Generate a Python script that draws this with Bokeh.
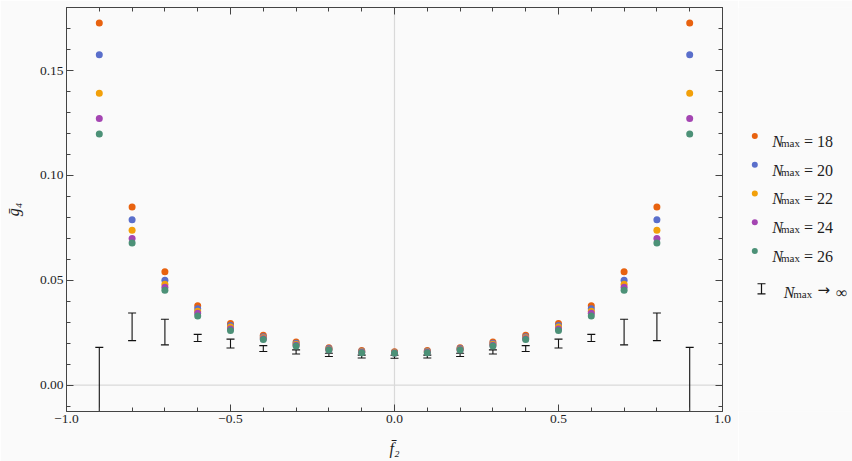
import numpy as np
from bokeh.plotting import figure
from bokeh.models import Range1d, FixedTicker, LinearAxis, Span
from bokeh.layouts import row
from bokeh.embed import file_html
from bokeh.resources import INLINE
from bokeh.core.properties import value

# ---------------- data ----------------
f2 = [-0.9, -0.8, -0.7, -0.6, -0.5, -0.4, -0.3, -0.2, -0.1, 0.0,
      0.1, 0.2, 0.3, 0.4, 0.5, 0.6, 0.7, 0.8, 0.9]

g4_N18 = [0.1727, 0.0849, 0.0540, 0.0379, 0.0294, 0.0238, 0.0205, 0.0178, 0.0165, 0.0159,
          0.0165, 0.0178, 0.0205, 0.0238, 0.0294, 0.0379, 0.0540, 0.0849, 0.1727]
g4_N20 = [0.1576, 0.0789, 0.0500, 0.0364, 0.0284, 0.0231, 0.0199, 0.0174, 0.0161, 0.0157,
          0.0161, 0.0174, 0.0199, 0.0231, 0.0284, 0.0364, 0.0500, 0.0789, 0.1576]
g4_N22 = [0.1392, 0.0738, 0.0481, 0.0352, 0.0277, 0.0226, 0.0195, 0.0171, 0.0159, 0.0155,
          0.0159, 0.0171, 0.0195, 0.0226, 0.0277, 0.0352, 0.0481, 0.0738, 0.1392]
g4_N24 = [0.1271, 0.0699, 0.0467, 0.0343, 0.0268, 0.0221, 0.0190, 0.0169, 0.0157, 0.0153,
          0.0157, 0.0169, 0.0190, 0.0221, 0.0268, 0.0343, 0.0467, 0.0699, 0.1271]
g4_N26 = [0.1198, 0.0678, 0.0452, 0.0330, 0.0260, 0.0217, 0.0186, 0.0167, 0.0154, 0.0152,
          0.0154, 0.0167, 0.0186, 0.0217, 0.0260, 0.0330, 0.0452, 0.0678, 0.1198]

# extrapolated N_max -> infinity : error-bar bounds
inf_upper = [0.0180, 0.0344, 0.0314, 0.0242, 0.0219, 0.0188, 0.0168, 0.0152, 0.0143, 0.0142,
             0.0143, 0.0152, 0.0168, 0.0188, 0.0219, 0.0242, 0.0314, 0.0344, 0.0180]
inf_lower = [-0.0500, 0.0212, 0.0192, 0.0208, 0.0177, 0.0160, 0.0148, 0.0136, 0.0129, 0.0128,
             0.0129, 0.0136, 0.0148, 0.0160, 0.0177, 0.0208, 0.0192, 0.0212, -0.0500]

nmax_labels = ["18", "20", "22", "24", "26"]
series = [g4_N18, g4_N20, g4_N22, g4_N24, g4_N26]
colors = ["#E8620F", "#5A6FCB", "#F2A00A", "#A445B2", "#4C9177"]

x_ticks = [-1.0, -0.5, 0.0, 0.5, 1.0]
x_tick_labels = ["\u22121.0", "\u22120.5", "0.0", "0.5", "1.0"]
y_ticks = [0.0, 0.05, 0.10, 0.15]
y_tick_labels = ["0.00", "0.05", "0.10", "0.15"]

# ---------------- style ----------------
BG = "#fafafa"
FRAME = "#444444"
LABEL = "#1e1e1e"
SERIF = "'Liberation Serif', 'Times New Roman', serif"

x_minor = [round(v, 2) for v in np.arange(-1.0, 1.0001, 0.1)]
y_minor = [round(v, 3) for v in np.arange(-0.01, 0.1801, 0.01)]

p = figure(width=738, height=461,
           x_range=Range1d(-1.0, 1.0), y_range=Range1d(-0.0126, 0.1801),
           output_backend="svg", toolbar_location=None,
           min_border_left=66, min_border_right=16,
           min_border_top=7, min_border_bottom=50,
           background_fill_color=BG, border_fill_color=BG)
p.xgrid.visible = False
p.ygrid.visible = False
p.outline_line_color = None

p.add_layout(LinearAxis(), "above")
p.add_layout(LinearAxis(), "right")


def style_axis(ax, ticks, minor, labels, show):
    ax.ticker = FixedTicker(ticks=ticks, minor_ticks=minor)
    ax.axis_line_color = FRAME
    ax.axis_line_width = 1
    ax.major_tick_line_color = FRAME
    ax.minor_tick_line_color = FRAME
    ax.major_tick_in = 7
    ax.major_tick_out = 0
    ax.minor_tick_in = 4
    ax.minor_tick_out = 0
    if show:
        ax.major_label_overrides = {t: l for t, l in zip(ticks, labels)}
        ax.major_label_text_font = SERIF
        ax.major_label_text_font_size = "13.5px"
        ax.major_label_text_color = LABEL
    else:
        ax.major_label_overrides = {t: "" for t in ticks}
        ax.major_label_text_font_size = "0px"
        ax.major_label_standoff = 0


style_axis(p.below[0], x_ticks, x_minor, x_tick_labels, True)
style_axis(p.above[0], x_ticks, x_minor, x_tick_labels, False)
style_axis(p.left[0], y_ticks, y_minor, y_tick_labels, True)
style_axis(p.right[0], y_ticks, y_minor, y_tick_labels, False)

p.below[0].major_label_standoff = 3
p.left[0].major_label_standoff = 3

xa = p.below[0]
xa.axis_label = "f\u0304\u2082"
xa.axis_label_text_font = SERIF
xa.axis_label_text_font_style = "italic"
xa.axis_label_text_font_size = "16px"
xa.axis_label_text_color = LABEL
xa.axis_label_standoff = 14

ya = p.left[0]
ya.axis_label = "\u1e21\u2084"
ya.axis_label_text_font = SERIF
ya.axis_label_text_font_style = "italic"
ya.axis_label_text_font_size = "16px"
ya.axis_label_text_color = LABEL
ya.axis_label_standoff = 15

p.add_layout(Span(location=0, dimension="height", line_color="#d9d9d9",
                  line_width=1.2, level="underlay"))
p.add_layout(Span(location=0, dimension="width", line_color="#d9d9d9",
                  line_width=1.2, level="underlay"))

# error bars (N_max -> infinity)
p.segment(x0=f2, y0=inf_lower, x1=f2, y1=inf_upper, line_color="#111111", line_width=1.1)
p.scatter(x=f2, y=inf_upper, marker="dash", size=8, line_color="#111111", line_width=1.1)
p.scatter(x=f2, y=inf_lower, marker="dash", size=8, line_color="#111111", line_width=1.1)

# finite N_max points
for vals, c in zip(series, colors):
    p.scatter(x=f2, y=vals, size=7, fill_color=c, line_color=None)

# ---------------- legend panel ----------------
LW, LH = 114, 461
lg = figure(width=LW, height=LH, x_range=Range1d(0, LW), y_range=Range1d(LH, 0),
            output_backend="svg", toolbar_location=None,
            x_axis_type=None, y_axis_type=None, min_border=0,
            background_fill_color=BG, border_fill_color=BG)
lg.grid.visible = False
lg.outline_line_color = None

leg_y = [146.7 + 32.8 * i for i in range(len(nmax_labels))]
mk_x = 16.3
lg.scatter(x=[mk_x] * len(leg_y), y=leg_y, size=6, fill_color=colors, line_color=None)

lg.text(x=[33.7] * len(leg_y), y=[v + 6.0 for v in leg_y], text=["N"] * len(leg_y),
        text_font=value(SERIF), text_font_size=value("16px"), text_font_style="italic",
        text_color=LABEL, text_baseline="alphabetic", text_align="left")
lg.text(x=[42.5] * len(leg_y), y=[v + 7.8 for v in leg_y], text=["max"] * len(leg_y),
        text_font=value(SERIF), text_font_size=value("11px"),
        text_color=LABEL, text_baseline="alphabetic", text_align="left")
lg.text(x=[65.5] * len(leg_y), y=[v + 6.0 for v in leg_y],
        text=["= " + s for s in nmax_labels],
        text_font=value(SERIF), text_font_size=value("16px"),
        text_color=LABEL, text_baseline="alphabetic", text_align="left")

# error bar legend entry
ey = 321.0
ex = 23.0
lg.segment(x0=[ex], y0=[ey - 5.8], x1=[ex], y1=[ey + 5.8], line_color="#111111", line_width=1.2)
lg.scatter(x=[ex, ex], y=[ey - 5.8, ey + 5.8], marker="dash", size=8,
           line_color="#111111", line_width=1.1)
lg.text(x=[45.3], y=[ey + 4.0], text=["N"], text_font=value(SERIF),
        text_font_size=value("16px"), text_font_style="italic", text_color=LABEL,
        text_baseline="alphabetic", text_align="left")
lg.text(x=[54.7], y=[ey + 5.8], text=["max"], text_font=value(SERIF),
        text_font_size=value("11px"), text_color=LABEL,
        text_baseline="alphabetic", text_align="left")
lg.text(x=[79.0], y=[ey + 1.0], text=["\u2192"], text_font=value("DejaVu Sans"),
        text_font_size=value("15px"), text_color=LABEL,
        text_baseline="middle", text_align="left")
lg.text(x=[97.5], y=[ey + 4.0], text=["\u221e"], text_font=value(SERIF),
        text_font_size=value("16px"), text_color=LABEL,
        text_baseline="alphabetic", text_align="left")

layout = row(p, lg)
html = file_html(layout, INLINE)
html = html.replace("<body>", '<body style="background-color:#fafafa;">', 1)
open("out.html", "w").write(html)
